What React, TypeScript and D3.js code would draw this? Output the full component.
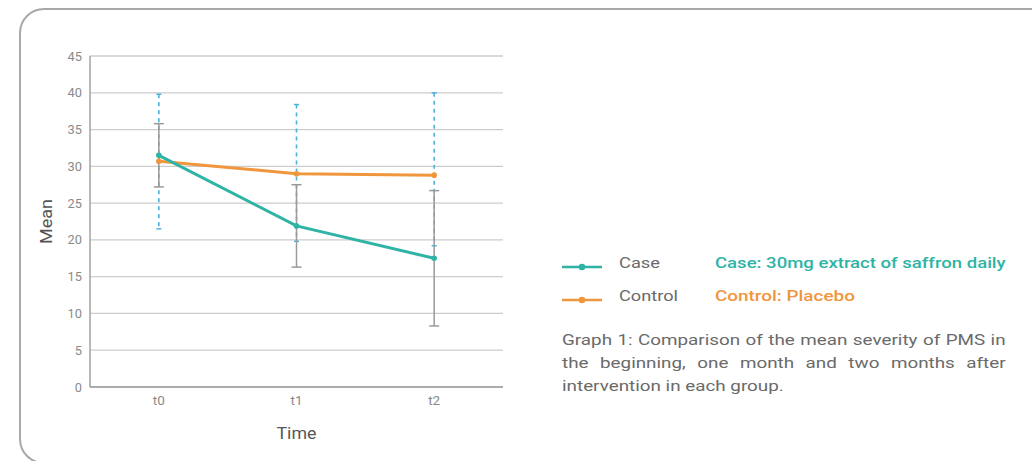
import { useEffect } from 'react';
import * as d3 from 'd3';

const times = ['t0', 't1', 't2'];
const caseMean = [31.5, 21.9, 17.5];
const caseUpper = [35.8, 27.5, 26.7];
const caseLower = [27.2, 16.3, 8.3];
const controlMean = [30.7, 29.0, 28.8];
const controlUpper = [39.8, 38.4, 40.0];
const controlLower = [21.5, 19.8, 19.2];
const yTicks = [0, 5, 10, 15, 20, 25, 30, 35, 40, 45];

const captionLines = [
  'Graph 1: Comparison of the mean severity of PMS in',
  'the beginning, one month and two months after',
  'intervention in each group.',
];

const TEAL = '#2fb3a5';
const ORANGE = '#f0963c';
const BLUE = '#4bb3dc';
const GRAY = '#9a9a9a';
const FONT = 'Roboto';

// text width helper (canvas), used to stretch the narrow local font to the wide original face
let ctx: CanvasRenderingContext2D | null = null;
function measure(text: string, size: number, weight = 400) {
  if (!ctx) ctx = document.createElement('canvas').getContext('2d');
  if (!ctx) return text.length * size * 0.5;
  ctx.font = `${weight} ${size}px ${FONT}`;
  return ctx.measureText(text).width;
}

// text scaled horizontally so it spans `w` px
function Fit({ x, y, w, size, text, fill, weight = 400, anchor = 'start' }: any) {
  const sx = w / measure(text, size, weight);
  const x0 = anchor === 'end' ? x - w : anchor === 'middle' ? x - w / 2 : x;
  return (
    <text transform={`translate(${x0},${y}) scale(${sx},1)`} fontSize={size} fontWeight={weight} fill={fill}>
      {text}
    </text>
  );
}

export default function App() {
  useEffect(() => {
    document.body.style.margin = '0';
  }, []);

  const width = 1032;
  const height = 461;

  const x = d3.scalePoint<string>().domain(times).range([90, 503]).padding(0.5);
  const y = d3.scaleLinear().domain([0, 45]).range([387, 56]);

  const line = d3
    .line<number>()
    .x((_, i) => x(times[i]) as number)
    .y((d) => y(d));

  const capW = 5;

  // caption: stretch from last line's width, justify first two lines to 444px
  const capSize = 14.5;
  const capS = 222 / measure(captionLines[2], capSize);
  const capY = [345, 368, 391];

  return (
    <svg width={width} height={height} style={{ display: 'block', fontFamily: FONT }}>
      <rect x={20} y={9} width={1060} height={454} rx={24} ry={24} fill="#fff" stroke="#a8a8a8" strokeWidth={2} />

      {/* grid */}
      {yTicks.map((t) => (
        <g key={t}>
          {t > 0 && <line x1={90} x2={503} y1={y(t)} y2={y(t)} stroke="#cccccc" strokeWidth={1.3} />}
          <Fit x={82} y={y(t) + 4.5} w={String(t).length * 7.2} size={12} text={String(t)} fill="#8a8a8a" anchor="end" />
        </g>
      ))}
      <line x1={90} x2={90} y1={y(45)} y2={y(0)} stroke="#a8a8a8" strokeWidth={1.6} />
      <line x1={90} x2={503} y1={y(0)} y2={y(0)} stroke="#8f8f8f" strokeWidth={1.6} />

      {times.map((t) => (
        <Fit key={t} x={x(t)} y={405} w={12} size={12} text={t} fill="#8a8a8a" anchor="middle" />
      ))}
      <Fit x={x('t1')} y={439} w={40} size={16.5} text="Time" fill="#555" anchor="middle" />
      <g transform={`translate(52,${(y(0) + y(45)) / 2}) rotate(-90)`}>
        <Fit x={0} y={0} w={45} size={16} text="Mean" fill="#555" anchor="middle" />
      </g>

      {/* control error bars (dashed blue) */}
      {times.map((t, i) => {
        const cx = x(t) as number;
        return (
          <g key={'c' + t}>
            <line x1={cx} x2={cx} y1={y(controlUpper[i])} y2={y(controlLower[i])} stroke={BLUE} strokeWidth={1.6} strokeDasharray="4 4" />
            <line x1={cx - 2.5} x2={cx + 2.5} y1={y(controlUpper[i])} y2={y(controlUpper[i])} stroke={BLUE} strokeWidth={1.5} />
            <line x1={cx - 2.5} x2={cx + 2.5} y1={y(controlLower[i])} y2={y(controlLower[i])} stroke={BLUE} strokeWidth={1.5} />
          </g>
        );
      })}

      {/* case error bars (gray) */}
      {times.map((t, i) => {
        const cx = x(t) as number;
        return (
          <g key={'e' + t}>
            <line x1={cx} x2={cx} y1={y(caseUpper[i])} y2={y(caseLower[i])} stroke={GRAY} strokeWidth={1.5} />
            <line x1={cx - capW} x2={cx + capW} y1={y(caseUpper[i])} y2={y(caseUpper[i])} stroke={GRAY} strokeWidth={1.5} />
            <line x1={cx - capW} x2={cx + capW} y1={y(caseLower[i])} y2={y(caseLower[i])} stroke={GRAY} strokeWidth={1.5} />
          </g>
        );
      })}

      <path d={line(controlMean) ?? ''} fill="none" stroke={ORANGE} strokeWidth={3} />
      {controlMean.map((d, i) => (
        <circle key={'co' + i} cx={x(times[i])} cy={y(d)} r={2.8} fill={ORANGE} />
      ))}
      <path d={line(caseMean) ?? ''} fill="none" stroke={TEAL} strokeWidth={3} />
      {caseMean.map((d, i) => (
        <circle key={'ca' + i} cx={x(times[i])} cy={y(d)} r={2.8} fill={TEAL} />
      ))}

      {/* legend */}
      <g>
        <line x1={562} x2={602} y1={267} y2={267} stroke={TEAL} strokeWidth={2.4} />
        <circle cx={582} cy={267} r={3.3} fill={TEAL} />
        <Fit x={619} y={268} w={41} size={15} text="Case" fill="#6a6a6a" />
        <line x1={562} x2={602} y1={300} y2={300} stroke={ORANGE} strokeWidth={2.4} />
        <circle cx={582} cy={300} r={3.3} fill={ORANGE} />
        <Fit x={619} y={301} w={59} size={15} text="Control" fill="#6a6a6a" />
        <Fit x={715} y={268} w={291} size={15} weight={500} text="Case: 30mg extract of saffron daily" fill={TEAL} />
        <Fit x={715} y={301} w={140} size={15} weight={500} text="Control: Placebo" fill={ORANGE} />
      </g>

      {/* caption */}
      {captionLines.map((ln, i) => {
        const spaces = ln.split(' ').length - 1;
        const ws = i < 2 ? (444 / capS - measure(ln, capSize)) / spaces : 0;
        return (
          <text
            key={i}
            transform={`translate(562,${capY[i]}) scale(${capS},1)`}
            fontSize={capSize}
            fill="#6a6a6a"
            style={{ wordSpacing: `${ws}px` }}
          >
            {ln}
          </text>
        );
      })}
    </svg>
  );
}
